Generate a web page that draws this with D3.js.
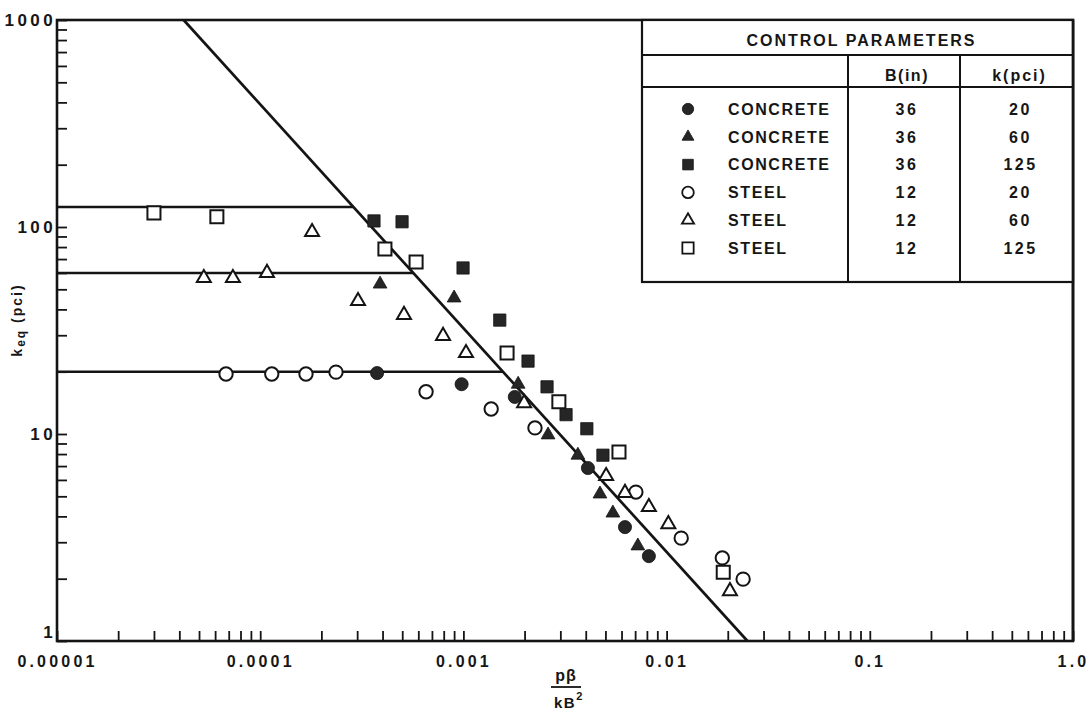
<!DOCTYPE html>
<html>
<head>
<meta charset="utf-8">
<script src="https://cdn.jsdelivr.net/npm/d3@7"></script>
<style>
  body { margin: 0; background: #fff; }
  svg text { font-family: "Liberation Sans", Arial, sans-serif; font-weight: bold; fill: #161616; }
</style>
</head>
<body>
<div id="chart"></div>
<script>
// values: [p*beta/(k*B^2), k_eq (pci)]
const concreteK20 = [[3.76e-4, 19.7], [9.8e-4, 17.4], [1.79e-3, 15.1], [4.1e-3, 6.85], [6.24e-3, 3.55], [8.18e-3, 2.57]];
const concreteK60 = [[3.89e-4, 53], [9.0e-4, 45.4], [1.86e-3, 17.4], [2.61e-3, 9.9], [3.66e-3, 7.9], [4.7e-3, 5.13], [5.44e-3, 4.15], [7.22e-3, 2.88]];
const concreteK125 = [[3.63e-4, 107], [4.99e-4, 106], [9.96e-4, 63.4], [1.51e-3, 35.5], [2.08e-3, 22.5], [2.58e-3, 16.9], [3.2e-3, 12.4], [4.05e-3, 10.6], [4.86e-3, 7.9]];
const steelK20 = [[6.79e-5, 19.5], [1.14e-4, 19.5], [1.68e-4, 19.5], [2.36e-4, 19.9], [6.55e-4, 16.0], [1.37e-3, 13.2], [2.25e-3, 10.7], [7.06e-3, 5.24], [1.18e-2, 3.14], [1.88e-2, 2.52], [2.38e-2, 1.99]];
const steelK60 = [[5.28e-5, 56.7], [7.34e-5, 56.7], [1.08e-4, 60], [1.8e-4, 94.6], [3.03e-4, 43.9], [5.1e-4, 37.6], [7.94e-4, 29.8], [1.03e-3, 24.6], [1.99e-3, 14.1], [5.04e-3, 6.27], [6.24e-3, 5.19], [8.18e-3, 4.44], [1.02e-2, 3.67], [2.05e-2, 1.74]];
const steelK125 = [[3.0e-5, 117], [6.12e-5, 112], [4.11e-4, 78.3], [5.85e-4, 67.8], [1.64e-3, 24.6], [2.95e-3, 14.3], [5.83e-3, 8.19], [1.9e-2, 2.15]];

const materials = ["CONCRETE", "CONCRETE", "CONCRETE", "STEEL", "STEEL", "STEEL"];
const widthB = [36, 36, 36, 12, 12, 12];
const soilK = [20, 60, 125, 20, 60, 125];

// theory: plateau at k, then falling line
const plateauK = [125, 60, 20];
const trendLine = [[4.2e-5, 1000], [0.025, 1]];

const xDecades = [1e-5, 1e-4, 1e-3, 1e-2, 1e-1, 1];
const xDecadeLabels = ["0.00001", "0.0001", "0.001", "0.01", "0.1", "1.0"];
const yDecades = [1, 10, 100, 1000];
const yDecadeLabels = ["1", "10", "100", "1000"];

const allSeries = [concreteK20, concreteK60, concreteK125, steelK20, steelK60, steelK125];

let width = 1091, height = 712;
let mLeft = 57, mRight = 1073, mTop = 20, mBottom = 641;
let ink = "#141414";

let svg = d3.select("#chart")
    .append("svg")
    .attr("width", width)
    .attr("height", height);

let x = d3.scaleLog().domain([1e-5, 1]).range([mLeft, mRight]);
let y = d3.scaleLog().domain([1, 1000]).range([mBottom, mTop]);

// marker shapes per series (filled = concrete, open = steel)
let shapes = [d3.symbolCircle, d3.symbolTriangle, d3.symbolSquare, d3.symbolCircle, d3.symbolTriangle, d3.symbolSquare];
let sizes = [135, 82, 150, 140, 85, 170];
let filled = [true, true, true, false, false, false];

function decadeLabel(list, labels) {
    return function (d) {
        let i = list.findIndex(v => Math.abs(Math.log10(v) - Math.log10(d)) < 1e-6);
        return i >= 0 ? labels[i] : "";
    };
}

// axes, ticks point inward
let xAxis = d3.axisBottom(x)
    .tickValues(x.ticks())
    .tickSize(-10)
    .tickPadding(15)
    .tickFormat(decadeLabel(xDecades, xDecadeLabels));

let yAxis = d3.axisLeft(y)
    .tickValues(y.ticks())
    .tickSize(-10)
    .tickPadding(1)
    .tickFormat(decadeLabel(yDecades, yDecadeLabels));

let gx = svg.append("g")
    .attr("transform", "translate(0," + mBottom + ")")
    .call(xAxis);
gx.select(".domain").remove();
gx.selectAll("line").attr("stroke", ink).attr("stroke-width", 1.8);
gx.selectAll("text")
    .attr("font-size", 16)
    .attr("letter-spacing", 3.2)
    .attr("fill", ink);

let gy = svg.append("g")
    .attr("transform", "translate(" + mLeft + ",0)")
    .call(yAxis);
gy.select(".domain").remove();
gy.selectAll("line").attr("stroke", ink).attr("stroke-width", 1.8);
gy.selectAll("text")
    .attr("font-size", 17)
    .attr("letter-spacing", 3.4)
    .attr("fill", ink)
    .attr("dy", function (d) {
        return d === 1 ? "-0.2em" : "0.32em";
    });

// frame
svg.append("rect")
    .attr("x", mLeft)
    .attr("y", mTop)
    .attr("width", mRight - mLeft)
    .attr("height", mBottom - mTop)
    .attr("fill", "none")
    .attr("stroke", ink)
    .attr("stroke-width", 2.6);

// trend line and plateaus
let lx0 = Math.log10(trendLine[0][0]), ly0 = Math.log10(trendLine[0][1]);
let lx1 = Math.log10(trendLine[1][0]), ly1 = Math.log10(trendLine[1][1]);

let line = d3.line()
    .x(d => x(d[0]))
    .y(d => y(d[1]));

svg.append("path")
    .attr("d", line(trendLine))
    .attr("fill", "none")
    .attr("stroke", ink)
    .attr("stroke-width", 2.7);

svg.selectAll(".plateau")
    .data(plateauK)
    .enter()
    .append("path")
    .attr("class", "plateau")
    .attr("d", function (k) {
        let lx = lx0 + (Math.log10(k) - ly0) * (lx1 - lx0) / (ly1 - ly0);
        return line([[1e-5, k], [Math.pow(10, lx), k]]);
    })
    .attr("fill", "none")
    .attr("stroke", ink)
    .attr("stroke-width", 2.5);

// points
allSeries.forEach(function (series, s) {
    svg.append("g")
        .selectAll("path")
        .data(series)
        .enter()
        .append("path")
        .attr("transform", function (d) {
            return "translate(" + x(d[0]) + "," + y(d[1]) + ")";
        })
        .attr("d", d3.symbol().type(shapes[s]).size(sizes[s]))
        .attr("fill", filled[s] ? "#262626" : "#fff")
        .attr("stroke", ink)
        .attr("stroke-width", filled[s] ? 0.8 : 2);
});

// axis titles
let yTitle = svg.append("text")
    .attr("transform", "translate(22,320) rotate(-90)")
    .attr("text-anchor", "middle")
    .attr("font-size", 14)
    .attr("letter-spacing", 2);
yTitle.append("tspan").text("k");
yTitle.append("tspan").attr("font-size", 12).attr("dy", 3).text("eq");
yTitle.append("tspan").attr("dy", -3).text(" (pci)");

svg.append("text")
    .attr("x", 566)
    .attr("y", 681)
    .attr("text-anchor", "middle")
    .attr("font-size", 16)
    .attr("letter-spacing", 1)
    .text("pβ");

svg.append("line")
    .attr("x1", 551).attr("x2", 581)
    .attr("y1", 687).attr("y2", 687)
    .attr("stroke", ink)
    .attr("stroke-width", 1.8);

let xTitle = svg.append("text")
    .attr("x", 554)
    .attr("y", 708)
    .attr("font-size", 15)
    .attr("letter-spacing", 1.5);
xTitle.append("tspan").text("kB");
xTitle.append("tspan").attr("font-size", 11).attr("dy", -8).text("2");

// legend table
let tl = 642, tr = mRight, tt = mTop, tb = 282;
let colB = 848, colK = 960;
let table = svg.append("g");

table.append("rect")
    .attr("x", tl).attr("y", tt)
    .attr("width", tr - tl).attr("height", tb - tt)
    .attr("fill", "#fff")
    .attr("stroke", ink)
    .attr("stroke-width", 2.2);

[55, 87].forEach(function (yy) {
    table.append("line")
        .attr("x1", tl).attr("x2", tr)
        .attr("y1", yy).attr("y2", yy)
        .attr("stroke", ink).attr("stroke-width", 2);
});
[colB, colK].forEach(function (xx) {
    table.append("line")
        .attr("x1", xx).attr("x2", xx)
        .attr("y1", 55).attr("y2", tb)
        .attr("stroke", ink).attr("stroke-width", 2);
});

// frame edge over table
svg.append("line")
    .attr("x1", mRight).attr("x2", mRight)
    .attr("y1", mTop).attr("y2", mBottom)
    .attr("stroke", ink).attr("stroke-width", 2.6);

table.append("text")
    .attr("x", (tl + tr) / 2 + 4)
    .attr("y", 46)
    .attr("text-anchor", "middle")
    .attr("font-size", 16)
    .attr("letter-spacing", 2)
    .text("CONTROL PARAMETERS");

table.append("text")
    .attr("x", (colB + colK) / 2 + 3)
    .attr("y", 81)
    .attr("text-anchor", "middle")
    .attr("font-size", 16)
    .attr("letter-spacing", 1.5)
    .text("B(in)");

table.append("text")
    .attr("x", (colK + tr) / 2 + 3)
    .attr("y", 81)
    .attr("text-anchor", "middle")
    .attr("font-size", 16)
    .attr("letter-spacing", 2)
    .text("k(pci)");

let rowY = d3.scaleLinear().domain([0, 5]).range([109, 248]);

let rows = table.selectAll(".row")
    .data(materials)
    .enter()
    .append("g")
    .attr("class", "row")
    .attr("transform", function (d, i) {
        return "translate(0," + rowY(i) + ")";
    });

rows.append("path")
    .attr("transform", "translate(688,0)")
    .attr("d", function (d, i) {
        return d3.symbol().type(shapes[i]).size(sizes[i] * 0.75)();
    })
    .attr("fill", function (d, i) { return filled[i] ? "#262626" : "#fff"; })
    .attr("stroke", ink)
    .attr("stroke-width", function (d, i) { return filled[i] ? 0.8 : 1.8; });

rows.append("text")
    .attr("x", 728)
    .attr("dy", "0.36em")
    .attr("font-size", 16)
    .attr("letter-spacing", 1.6)
    .text(d => d);

rows.append("text")
    .attr("x", (colB + colK) / 2 + 3)
    .attr("dy", "0.36em")
    .attr("text-anchor", "middle")
    .attr("font-size", 16)
    .attr("letter-spacing", 2.5)
    .text(function (d, i) { return widthB[i]; });

rows.append("text")
    .attr("x", (colK + tr) / 2 + 4)
    .attr("dy", "0.36em")
    .attr("text-anchor", "middle")
    .attr("font-size", 16)
    .attr("letter-spacing", 2.5)
    .text(function (d, i) { return soilK[i]; });
</script>
</body>
</html>
